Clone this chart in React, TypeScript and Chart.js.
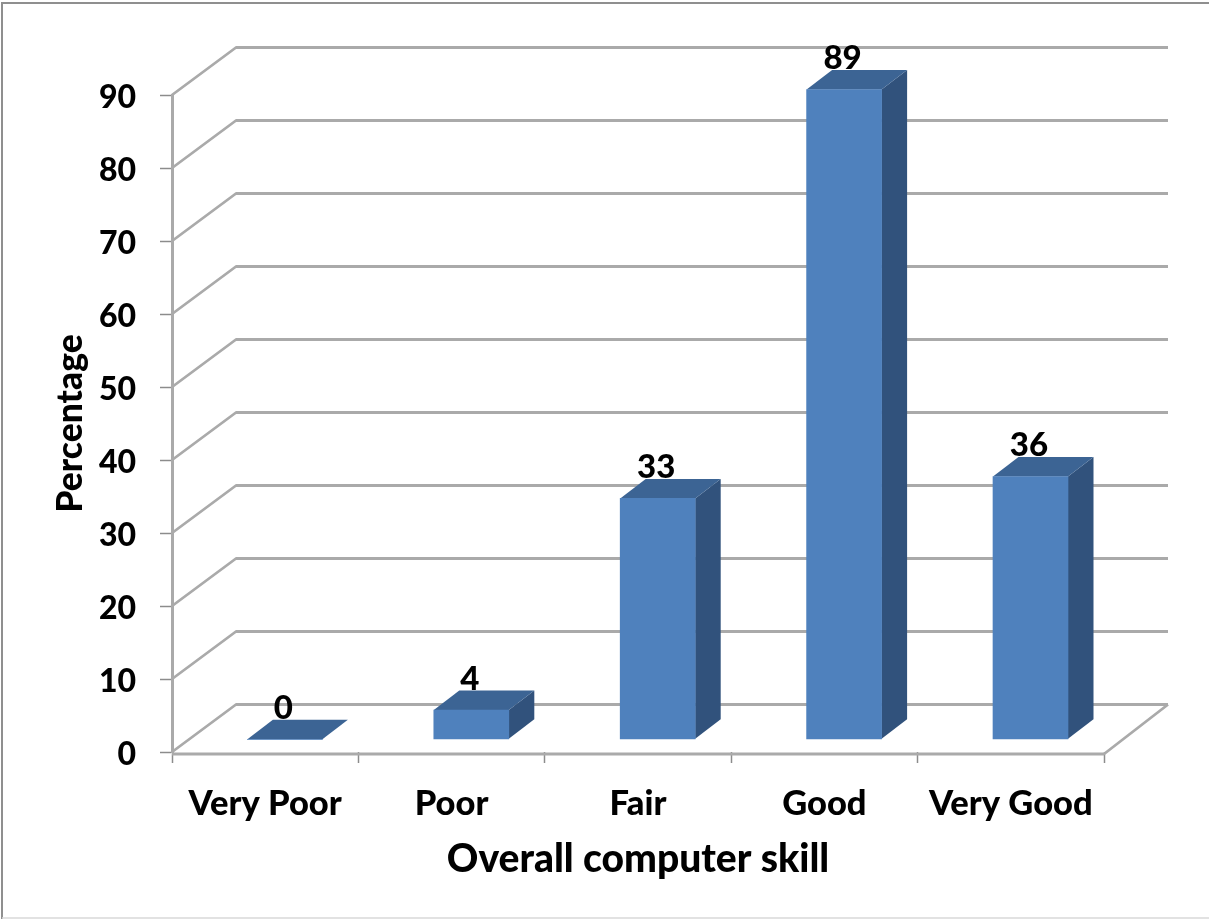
import React, { useEffect, useRef } from "react";
import { Chart, registerables } from "chart.js";

Chart.register(...registerables);

const categories = ["Very Poor", "Poor", "Fair", "Good", "Very Good"];
const percentages = [0, 4, 33, 89, 36];
const yTickStep = 10;
const yMax = 90;
const xAxisTitle = "Overall computer skill";
const yAxisTitle = "Percentage";

const FONT = "Lato";
const WEIGHT = 900;
const GRID_COLOR = "#aaaaaa";
const TICK_COLOR = "#8c8c8c";
const FRONT = "#4f81bd";
const TOP = "#3c6494";
const SIDE = "#31527c";

// Wall and floor depth of the pseudo-3D box
const WALL_DX = 64;
const WALL_DY = 47.5;
// Where the bars stand on the floor, and how deep they are
const BAR_DX = 19.7;
const BAR_DY = 12.7;
const DEPTH_DX = 25.5;
const DEPTH_DY = 19.5;

const polygon = (ctx: CanvasRenderingContext2D, pts: number[][], fill: string) => {
  ctx.beginPath();
  pts.forEach(([x, y], i) => (i ? ctx.lineTo(x, y) : ctx.moveTo(x, y)));
  ctx.closePath();
  ctx.fillStyle = fill;
  ctx.fill();
};

const box3d = {
  id: "box3d",
  beforeDatasetsDraw(chart: any) {
    const { ctx, scales } = chart;
    const { x: xs, y: ys } = scales;
    const left = xs.left;
    const right = xs.right;
    ctx.save();
    ctx.strokeStyle = GRID_COLOR;
    ctx.lineWidth = 2.8;
    ctx.lineJoin = "round";
    ys.ticks.forEach((t: any) => {
      const y = ys.getPixelForValue(t.value);
      ctx.beginPath();
      ctx.moveTo(left, y);
      ctx.lineTo(left + WALL_DX, y - WALL_DY);
      ctx.lineTo(right + WALL_DX, y - WALL_DY);
      ctx.stroke();
    });
    // Front and right edges of the floor
    const y0 = ys.getPixelForValue(0);
    ctx.beginPath();
    ctx.moveTo(left, y0 + 2);
    ctx.lineTo(right, y0 + 2);
    ctx.lineTo(right + WALL_DX, y0 - WALL_DY);
    ctx.stroke();
    ctx.restore();
  },
  beforeDatasetDraw(chart: any, args: any) {
    const { ctx } = chart;
    ctx.save();
    ctx.translate(BAR_DX, -BAR_DY);
    chart.getDatasetMeta(args.index).data.forEach((bar: any) => {
      const { x, y, base, width } = bar.getProps(["x", "y", "base", "width"], true);
      const l = x - width / 2;
      const r = x + width / 2;
      polygon(ctx, [[r, y], [r + DEPTH_DX, y - DEPTH_DY], [r + DEPTH_DX, base - DEPTH_DY], [r, base]], SIDE);
      polygon(ctx, [[l, y], [l + DEPTH_DX, y - DEPTH_DY], [r + DEPTH_DX, y - DEPTH_DY], [r, y]], TOP);
    });
  },
  afterDatasetDraw(chart: any, args: any) {
    const { ctx } = chart;
    const values = chart.data.datasets[args.index].data;
    chart.getDatasetMeta(args.index).data.forEach((bar: any, i: number) => {
      const { x, y } = bar.getProps(["x", "y"], true);
      ctx.fillStyle = "#000000";
      ctx.font = `${WEIGHT} 33px ${FONT}`;
      ctx.textAlign = "center";
      ctx.textBaseline = "middle";
      ctx.fillText(String(values[i]), x - 1.5, y - 31);
    });
    ctx.restore();
  },
  afterDraw(chart: any) {
    const { ctx, width, height } = chart;
    ctx.save();
    ctx.strokeStyle = "#8f8f8f";
    ctx.lineWidth = 2;
    ctx.beginPath();
    ctx.moveTo(2, height);
    ctx.lineTo(2, 3);
    ctx.lineTo(width, 3);
    ctx.stroke();
    ctx.strokeStyle = "#d9d9d9";
    ctx.lineWidth = 1.5;
    ctx.beginPath();
    ctx.moveTo(2, height - 1);
    ctx.lineTo(width, height - 1);
    ctx.stroke();
    ctx.restore();
  },
};

export default function App() {
  const ref = useRef<HTMLCanvasElement>(null);

  useEffect(() => {
    document.body.style.margin = "0";
    const chart = new Chart(ref.current!, {
      type: "bar",
      data: {
        labels: categories,
        datasets: [
          {
            label: yAxisTitle,
            data: percentages,
            backgroundColor: FRONT,
            barThickness: 75,
            clip: false,
          } as any,
        ],
      },
      plugins: [box3d],
      options: {
        responsive: false,
        animation: false,
        layout: { padding: { top: 95, right: 105, bottom: 36, left: 49 } },
        plugins: { legend: { display: false }, tooltip: { enabled: false } },
        scales: {
          x: {
            afterFit: (s: any) => {
              s.height = 131;
            },
            grid: {
              drawOnChartArea: false,
              color: TICK_COLOR,
              tickColor: TICK_COLOR,
              tickLength: 11,
              tickWidth: 1.5,
            },
            border: { display: false },
            ticks: {
              color: "#000000",
              font: { family: FONT, weight: WEIGHT, size: 34.5 },
              padding: 20,
              maxRotation: 0,
              autoSkip: false,
            },
            title: {
              display: true,
              text: xAxisTitle,
              color: "#000000",
              font: { family: FONT, weight: WEIGHT, size: 39 },
              padding: 0,
            },
          },
          y: {
            min: 0,
            max: yMax,
            afterFit: (s: any) => {
              s.width = 123;
            },
            grid: {
              drawOnChartArea: false,
              tickColor: TICK_COLOR,
              tickLength: 12,
              tickWidth: 1.5,
            },
            border: { display: true, color: GRID_COLOR, width: 3 },
            ticks: {
              stepSize: yTickStep,
              color: "#000000",
              font: { family: FONT, weight: WEIGHT, size: 32 },
              padding: 24,
              labelOffset: 3,
            },
            title: {
              display: true,
              text: yAxisTitle,
              color: "#000000",
              font: { family: FONT, weight: WEIGHT, size: 35.5 },
              padding: 0,
            },
          },
        },
      } as any,
    });
    return () => chart.destroy();
  }, []);

  return <canvas ref={ref} width={1209} height={919} style={{ display: "block" }} />;
}
